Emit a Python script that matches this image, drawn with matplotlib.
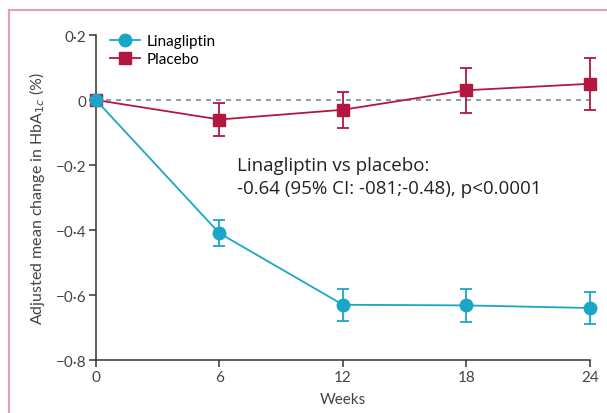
import matplotlib.pyplot as plt
from matplotlib.lines import Line2D
from matplotlib.patches import Rectangle

# data
weeks = [0, 6, 12, 18, 24]
lina_mean = [0.0, -0.41, -0.63, -0.632, -0.64]
lina_err = [0.0, 0.04, 0.05, 0.05, 0.05]
plac_mean = [0.0, -0.06, -0.03, 0.03, 0.05]
plac_err = [0.0, 0.05, 0.055, 0.07, 0.08]

y_ticks = [0.2, 0, -0.2, -0.4, -0.6, -0.8]
y_tick_labels = ["0·2", "0", "\u22120·2", "\u22120·4", "\u22120·6", "\u22120·8"]

# style
LINA_COLOR = '#1ba6c8'
PLAC_COLOR = '#b3173f'
FRAME_COLOR = '#e3a0b2'
TEXT_COLOR = '#444444'
plt.rcParams['font.family'] = ['Lato', 'DejaVu Sans']

fig = plt.figure(figsize=(6.07, 4.14), dpi=100)
ax = fig.add_axes([0.158, 0.128, 0.814, 0.785])

# pink frame (only top and left visible)
fig.patches.append(Rectangle((9 / 607, -0.05), 1.5, 1 - 11 / 414 + 0.05, transform=fig.transFigure,
                             fill=False, edgecolor=FRAME_COLOR, linewidth=1.5))

ax.axhline(0, color='#7d8c98', linestyle=(0, (3, 3)), linewidth=1.2, zorder=1)

ax.errorbar(weeks, plac_mean, yerr=plac_err, color=PLAC_COLOR, marker='s', markersize=8,
            linewidth=1.3, elinewidth=1.3, capsize=4, capthick=1.3, clip_on=False, zorder=3)
ax.errorbar(weeks, lina_mean, yerr=lina_err, color=LINA_COLOR, marker='o', markersize=9,
            linewidth=1.3, elinewidth=1.3, capsize=4, capthick=1.3, clip_on=False, zorder=4)

ax.set_xlim(0, 24)
ax.set_ylim(-0.8, 0.2)
ax.set_xticks(weeks)
ax.set_xticklabels([str(w) for w in weeks], fontsize=11, color=TEXT_COLOR)
ax.set_yticks(y_ticks)
ax.set_yticklabels(y_tick_labels, fontsize=11, color=TEXT_COLOR)
ax.tick_params(direction='out', length=5, width=1.1, color='#333333', pad=2)

for side in ['top', 'right']:
    ax.spines[side].set_visible(False)
for side in ['left', 'bottom']:
    ax.spines[side].set_color('#333333')
    ax.spines[side].set_linewidth(1.1)

ax.set_xlabel('Weeks', fontsize=11, color=TEXT_COLOR, labelpad=6)
ax.set_ylabel('Adjusted mean change in HbA$_{1c}$ (%)', fontsize=11.5, color=TEXT_COLOR, labelpad=6)

handles = [
    Line2D([], [], color=LINA_COLOR, marker='o', markersize=9, linewidth=1.3),
    Line2D([], [], color=PLAC_COLOR, marker='s', markersize=8, linewidth=1.3),
]
ax.legend(handles, ['Linagliptin', 'Placebo'], loc='upper left', bbox_to_anchor=(0.0, 1.045),
          frameon=False, fontsize=11, handlelength=2.0, labelspacing=0.25, handletextpad=0.4)

ax.text(0.285, 0.565, 'Linagliptin vs placebo:\n-0.64 (95% CI: -081;-0.48), p<0.0001',
        transform=ax.transAxes, fontsize=13.5, color='#222222', va='center', ha='left',
        linespacing=1.35, family=['Open Sans', 'DejaVu Sans'])

fig.savefig('out.png', dpi=100)
